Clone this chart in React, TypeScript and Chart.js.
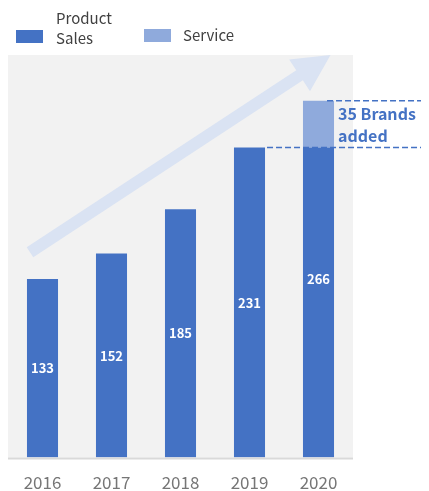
import React, { useEffect, useRef } from "react";
import { Chart, registerables } from "chart.js";

Chart.register(...registerables);

const years = ["2016", "2017", "2018", "2019", "2020"];
const productSales = [133, 152, 185, 231, 231];
const serviceSales = [0, 0, 0, 0, 35];
const legendProduct = ["Product", "Sales"];
const legendService = ["Service"];
const annotationLines = ["Brands", "added"];
const arrowStartValue = 153;
const yMax = 300;

const DARK = "#4472C4";
const LIGHT = "#8FAADC";
const FONT = "'Noto Sans CJK JP', 'Noto Sans', sans-serif";

const decorPlugin = {
  id: "decor",
  beforeDatasetsDraw(chart: any) {
    const { ctx, chartArea, scales } = chart;
    const x = scales.x;
    const y = scales.y;
    ctx.save();
    ctx.fillStyle = "#F2F2F2";
    ctx.fillRect(chartArea.left, chartArea.top, chartArea.right - chartArea.left, chartArea.bottom - chartArea.top);

    // growth arrow
    const sx = x.getPixelForValue(0) - 12.5;
    const sy = y.getPixelForValue(arrowStartValue);
    const tx = x.getPixelForValue(years.length - 1) + 12;
    const ty = y.getPixelForValue(yMax);
    const dx = tx - sx;
    const dy = ty - sy;
    const len = Math.hypot(dx, dy);
    const ux = dx / len;
    const uy = dy / len;
    const nx = -uy;
    const ny = ux;
    const headLen = 37;
    const headHalf = 19;
    const shaftHalf = 6;
    const bx = tx - ux * headLen;
    const by = ty - uy * headLen;
    ctx.fillStyle = "#DAE3F3";
    ctx.beginPath();
    ctx.moveTo(sx + nx * shaftHalf, sy + ny * shaftHalf);
    ctx.lineTo(bx + nx * shaftHalf, by + ny * shaftHalf);
    ctx.lineTo(bx + nx * headHalf, by + ny * headHalf);
    ctx.lineTo(tx, ty);
    ctx.lineTo(bx - nx * headHalf, by - ny * headHalf);
    ctx.lineTo(bx - nx * shaftHalf, by - ny * shaftHalf);
    ctx.lineTo(sx - nx * shaftHalf, sy - ny * shaftHalf);
    ctx.closePath();
    ctx.fill();
    ctx.restore();
  },
  afterDatasetsDraw(chart: any) {
    const { ctx, chartArea, scales } = chart;
    const y = scales.y;
    const meta0 = chart.getDatasetMeta(0);
    ctx.save();
    // baseline
    ctx.strokeStyle = "#D9D9D9";
    ctx.lineWidth = 2;
    ctx.beginPath();
    ctx.moveTo(chartArea.left, chartArea.bottom + 1);
    ctx.lineTo(chartArea.right, chartArea.bottom + 1);
    ctx.stroke();

    // value labels
    ctx.fillStyle = "#FFFFFF";
    ctx.font = `bold 13px ${FONT}`;
    ctx.textAlign = "center";
    ctx.textBaseline = "middle";
    meta0.data.forEach((bar: any, i: number) => {
      const total = productSales[i] + serviceSales[i];
      const cy = (y.getPixelForValue(0) + y.getPixelForValue(total)) / 2;
      ctx.fillText(String(total), bar.x, cy);
    });

    // annotation
    const last = years.length - 1;
    const prev = meta0.data[last - 1];
    const lastBar = meta0.data[last];
    const yLow = y.getPixelForValue(productSales[last]);
    const yHigh = y.getPixelForValue(productSales[last] + serviceSales[last]);
    ctx.strokeStyle = DARK;
    ctx.lineWidth = 1.5;
    ctx.setLineDash([6, 3]);
    ctx.beginPath();
    ctx.moveTo(prev.x + prev.width / 2 + 2, yLow);
    ctx.lineTo(chart.width, yLow);
    ctx.moveTo(lastBar.x + lastBar.width / 2 - 7, yHigh);
    ctx.lineTo(chart.width, yHigh);
    ctx.stroke();
    ctx.setLineDash([]);
    ctx.fillStyle = DARK;
    ctx.font = `bold 16px ${FONT}`;
    ctx.textAlign = "left";
    const mid = (yLow + yHigh) / 2;
    const tx = lastBar.x + lastBar.width / 2 + 4;
    ctx.fillText(`${serviceSales[last]} ${annotationLines[0]}`, tx, mid - 10);
    ctx.fillText(annotationLines[1], tx, mid + 12);

    // legend
    ctx.font = `15px ${FONT}`;
    ctx.fillStyle = DARK;
    ctx.fillRect(8, 22, 27, 13);
    ctx.fillStyle = LIGHT;
    ctx.fillRect(136, 21, 27, 13);
    ctx.fillStyle = "#404040";
    ctx.textBaseline = "middle";
    ctx.fillText(legendProduct[0], 48, 10);
    ctx.fillText(legendProduct[1], 48, 30);
    ctx.fillText(legendService[0], 175, 27);
    ctx.restore();
  },
};

export default function App() {
  const ref = useRef<HTMLCanvasElement | null>(null);
  useEffect(() => {
    if (!ref.current) return;
    const chart = new Chart(ref.current, {
      type: "bar",
      data: {
        labels: years,
        datasets: [
          {
            label: legendProduct.join(" "),
            data: productSales,
            backgroundColor: DARK,
            stack: "s",
            barPercentage: 0.45,
            categoryPercentage: 1,
          },
          {
            label: legendService.join(" "),
            data: serviceSales,
            backgroundColor: LIGHT,
            stack: "s",
            barPercentage: 0.45,
            categoryPercentage: 1,
          },
        ],
      },
      options: {
        responsive: true,
        maintainAspectRatio: false,
        animation: false,
        layout: { padding: { top: 47, right: 68, left: 0, bottom: 0 } },
        plugins: { legend: { display: false }, tooltip: { enabled: false } },
        scales: {
          x: {
            stacked: true,
            grid: { display: false, drawTicks: false },
            border: { display: false },
            ticks: { color: "#767676", font: { family: FONT, size: 17 }, padding: 15 },
          },
          y: { stacked: true, display: false, min: 0, max: yMax },
        },
      },
      plugins: [decorPlugin],
    });
    return () => chart.destroy();
  }, []);
  return (
    <div style={{ width: 413, height: 500 }}>
      <canvas ref={ref} />
    </div>
  );
}
